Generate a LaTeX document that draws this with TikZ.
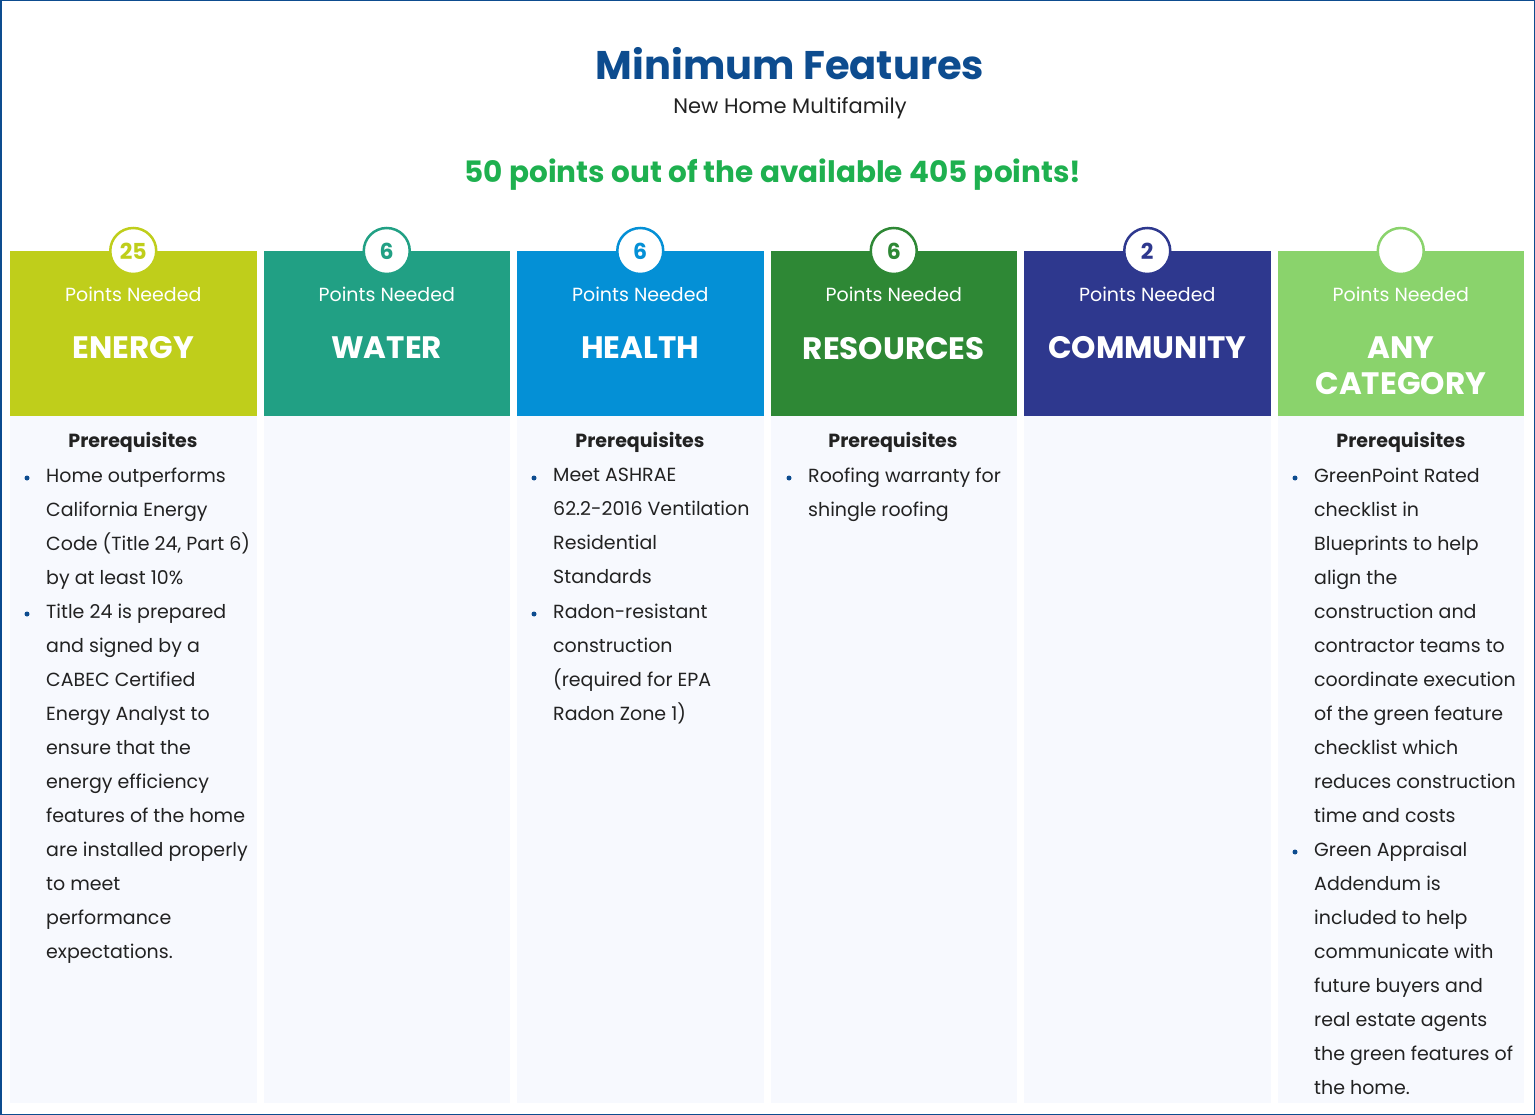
\documentclass[tikz,border=0pt]{standalone}
\usepackage{fontspec}
\setmainfont{Poppins}
\usetikzlibrary{positioning}
\definecolor{cEnergy}{HTML}{BFCE1B}
\definecolor{cWater}{HTML}{21A084}
\definecolor{cHealth}{HTML}{0490D6}
\definecolor{cRes}{HTML}{2E8835}
\definecolor{cComm}{HTML}{2E388E}
\definecolor{cAny}{HTML}{8AD36C}
\definecolor{titleblue}{HTML}{0D4C8F}
\definecolor{pointgreen}{HTML}{1EB04F}
\definecolor{bodybg}{HTML}{F7F9FE}
\definecolor{txt}{HTML}{222222}
\tikzset{
	bodytext/.style={anchor=north west, align=left, inner sep=0pt, text=txt,
		font=\fontsize{19}{34}\selectfont},
	prereq/.style={anchor=center, inner sep=0pt, text=txt,
		font=\fontsize{19}{22}\selectfont\bfseries},
	dot/.style={fill=titleblue, circle, inner sep=0pt, minimum size=5pt}
}
\newcommand{\bulletitem}[4]{% name, x, y, text
	\node[bodytext] (#1) at (#2,#3) {#4};
	\node[dot] at (#2-19,#3+10) {};
}
\begin{document}
\begin{tikzpicture}[x=1pt,y=-1pt]
\useasboundingbox (0,0) rectangle (1535,1115);
\draw[titleblue, line width=1.5pt] (0.75,0.75) rectangle (1534.25,1114.25);

%% Titles %%
\node[font=\fontsize{40}{42}\selectfont\bfseries, text=titleblue] (title) at (790,64) {Minimum Features};
\node[font=\fontsize{21}{24}\selectfont, text=txt] (sub) at (790,108) {New Home Multifamily};
\node[font=\fontsize{29.5}{32}\selectfont\bfseries, text=pointgreen] (pts) at (773,175) {50 points out of the available 405 points!};

%% Columns %%
\foreach \i/\col/\num/\name/\ny in {0/cEnergy/25/ENERGY/348, 1/cWater/6/WATER/348, 2/cHealth/6/HEALTH/348,
	3/cRes/6/RESOURCES/349, 4/cComm/2/COMMUNITY/348, 5/cAny//{ANY\\CATEGORY}/366}
{
	\pgfmathsetmacro{\xl}{10+253.5*\i}
	\fill[bodybg] (\xl,416) rectangle ++(246.5,687);
	\fill[\col] (\xl,251) rectangle ++(246.5,165);
	\node[circle, draw=\col, line width=2.5pt, fill=white, minimum size=46pt, inner sep=0pt,
		text=\col, font=\fontsize{22}{24}\selectfont\bfseries] (badge\i) at (\xl+123.25,251) {\num};
	\node[text=white, font=\fontsize{19}{20}\selectfont] (pn\i) at (\xl+123.25,294) {Points Needed};
	\node[text=white, align=center, font=\fontsize{31}{36}\selectfont\bfseries] (cat\i) at (\xl+123.25,\ny) {\name};
}

%% Prerequisites %%
\node[prereq] (pre0) at (133,442) {Prerequisites};
\node[prereq] (pre2) at (640,442) {Prerequisites};
\node[prereq] (pre3) at (893,442) {Prerequisites};
\node[prereq] (pre5) at (1401,442) {Prerequisites};

\bulletitem{e1}{46}{468}{Home outperforms\\California Energy\\Code (Title 24, Part 6)\\by at least 10\%}
\bulletitem{e2}{46}{604}{Title 24 is prepared\\and signed by a\\CABEC Certified\\Energy Analyst to\\ensure that the\\energy efficiency\\features of the home\\are installed properly\\to meet\\performance\\expectations.}
\bulletitem{h1}{553}{468}{Meet ASHRAE\\62.2-2016 Ventilation\\Residential\\Standards}
\bulletitem{h2}{553}{604}{Radon-resistant\\construction\\(required for EPA\\Radon Zone 1)}
\bulletitem{r1}{808}{468}{Roofing warranty for\\shingle roofing}
\bulletitem{a1}{1314}{468}{GreenPoint Rated\\checklist in\\Blueprints to help\\align the\\construction and\\contractor teams to\\coordinate execution\\of the green feature\\checklist which\\reduces construction\\time and costs}
\bulletitem{a2}{1314}{842}{Green Appraisal\\Addendum is\\included to help\\communicate with\\future buyers and\\real estate agents\\the green features of\\the home.}
\end{tikzpicture}
\end{document}
